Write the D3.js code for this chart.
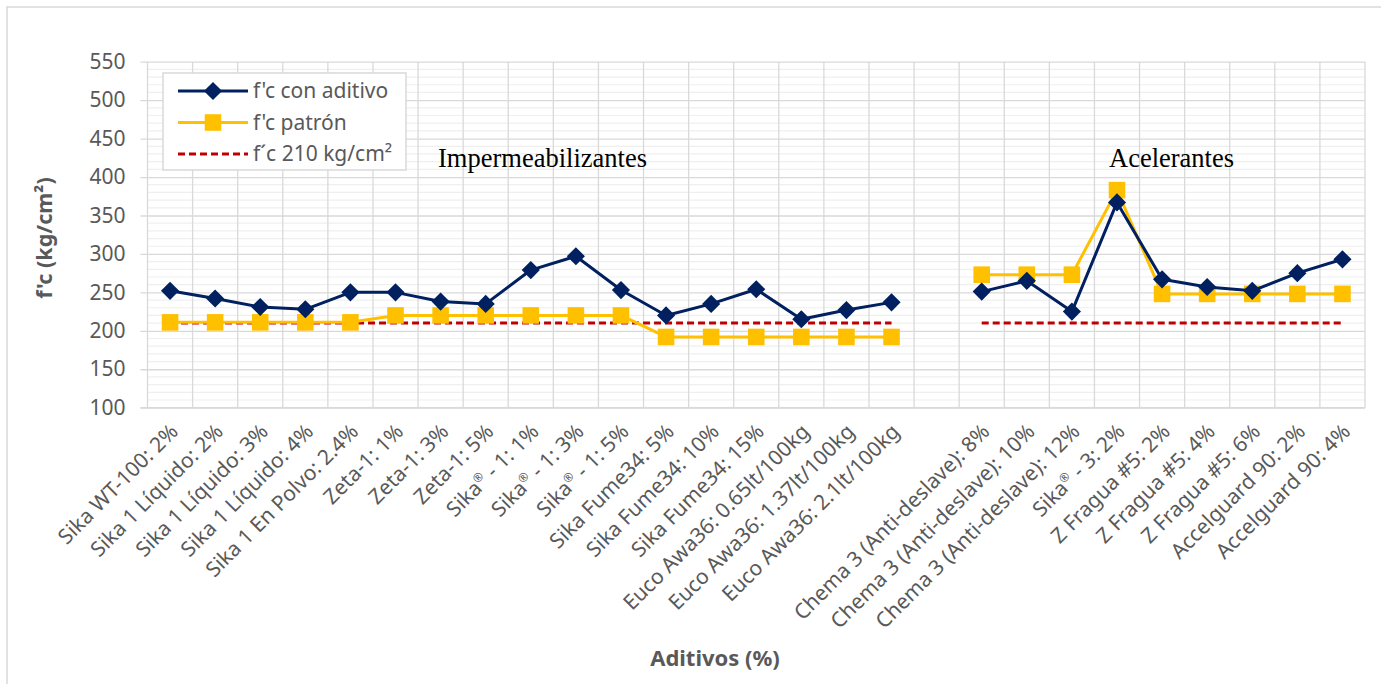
<!DOCTYPE html>
<html>
<head>
<meta charset="utf-8">
<script src="https://cdn.jsdelivr.net/npm/d3@7"></script>
<style>
  body { margin: 0; background: #fff; }
  svg { display: block; }
</style>
</head>
<body>
<script>
// categories (empty slot separates the two groups)
const categorias = [
  "Sika WT-100: 2%", "Sika 1 Líquido: 2%", "Sika 1 Líquido: 3%", "Sika 1 Líquido: 4%",
  "Sika 1 En Polvo: 2.4%", "Zeta-1: 1%", "Zeta-1: 3%", "Zeta-1: 5%",
  "Sika® - 1: 1%", "Sika® - 1: 3%", "Sika® - 1: 5%",
  "Sika Fume34: 5%", "Sika Fume34: 10%", "Sika Fume34: 15%",
  "Euco Awa36: 0.65lt/100kg", "Euco Awa36: 1.37lt/100kg", "Euco Awa36: 2.1lt/100kg",
  "",
  "Chema 3 (Anti-deslave): 8%", "Chema 3 (Anti-deslave): 10%", "Chema 3 (Anti-deslave): 12%",
  "Sika® - 3: 2%", "Z Fragua #5: 2%", "Z Fragua #5: 4%", "Z Fragua #5: 6%",
  "Accelguard 90: 2%", "Accelguard 90: 4%"
];
const conAditivo = [252, 242, 231, 228, 250, 250, 238, 235, 279, 297, 253, 220, 235, 254, 215, 227, 237,
  null, 251, 265, 225, 367, 267, 257, 252, 275, 293];
const patron = [211, 211, 211, 211, 211, 220, 220, 220, 220, 220, 220, 192, 192, 192, 192, 192, 192,
  null, 273, 273, 273, 383, 248, 248, 248, 248, 248];
const referencia = [210, 210, 210, 210, 210, 210, 210, 210, 210, 210, 210, 210, 210, 210, 210, 210, 210,
  null, 210, 210, 210, 210, 210, 210, 210, 210, 210];
const yTicks = [100, 150, 200, 250, 300, 350, 400, 450, 500, 550];
const grupos = [{ nombre: "Impermeabilizantes", x: 438 }, { nombre: "Acelerantes", x: 1109 }];

const W = 1381, H = 684;
const margin = { left: 147.5, right: 16, top: 61.7, bottom: 276.3 };
const width = W - margin.left - margin.right,
  height = H - margin.top - margin.bottom;
const font = "'Noto Sans', 'Open Sans', sans-serif";
const gris = "#595959";

const svg = d3.select("body").append("svg").attr("width", W).attr("height", H);

// outer chart border
svg.append("rect").attr("x", 7).attr("y", 7).attr("width", W).attr("height", H)
  .attr("fill", "none").attr("stroke", "#d9d9d9").attr("stroke-width", 1.5);

const g = svg.append("g").attr("transform", `translate(${margin.left},${margin.top})`);

const x = d3.scaleBand().domain(categorias).range([0, width]).padding(0);
const y = d3.scaleLinear().domain([100, 550]).range([height, 0]);
const cx = (i) => x(categorias[i]) + x.bandwidth() / 2;

// minor gridlines every 10
g.append("g").selectAll("line")
  .data(d3.range(110, 550, 10).filter((v) => v % 50 !== 0))
  .join("line")
  .attr("x1", 0).attr("x2", width)
  .attr("y1", (d) => y(d)).attr("y2", (d) => y(d))
  .attr("stroke", "#efefef").attr("stroke-width", 1.2);

// vertical gridlines at category boundaries
g.append("g").selectAll("line")
  .data(categorias.map((c) => x(c)).concat([width]))
  .join("line")
  .attr("x1", (d) => d).attr("x2", (d) => d)
  .attr("y1", 0).attr("y2", height)
  .attr("stroke", "#d9d9d9").attr("stroke-width", 1.3);

// major gridlines + y axis
const yAxis = d3.axisLeft(y).tickValues(yTicks).tickSize(7).tickPadding(15);
const gY = g.append("g").call(yAxis);
gY.select(".domain").remove();
gY.selectAll(".tick line").attr("stroke", "#d9d9d9").attr("stroke-width", 1.3)
  .attr("x1", -7).attr("x2", width);
gY.selectAll(".tick text").attr("fill", gris).style("font-family", font).style("font-size", "21px");

// x axis labels (® drawn small and raised, like the original)
const gX = g.append("g").attr("transform", `translate(0,${height})`);
gX.append("line").attr("x1", -7).attr("x2", width).attr("stroke", "#d9d9d9").attr("stroke-width", 1.5);
gX.selectAll("text")
  .data(categorias)
  .join("text")
  .attr("transform", (d) => `translate(${x(d) + x.bandwidth() / 2 + 4},${20}) rotate(-45)`)
  .attr("text-anchor", "end")
  .attr("dy", "0.35em")
  .attr("fill", gris)
  .style("font-family", font)
  .style("font-size", "21px")
  .each(function (d) {
    const t = d3.select(this);
    const partes = d.split("®");
    if (partes.length === 1) { t.text(d); return; }
    t.append("tspan").text(partes[0]);
    t.append("tspan").attr("baseline-shift", "super").style("font-size", "12px").text("®");
    t.append("tspan").text(partes[1]);
  });

// series
const series = [
  { nombre: "f´c 210 kg/cm²", datos: referencia, color: "#c00000", dash: "7,4", marker: null },
  { nombre: "f'c patrón", datos: patron, color: "#ffc000", dash: null, marker: "square" },
  { nombre: "f'c con aditivo", datos: conAditivo, color: "#002060", dash: null, marker: "diamond" }
];

const line = d3.line()
  .defined((d) => d.v !== null)
  .x((d) => cx(d.i))
  .y((d) => y(d.v));

const diamond = d3.symbol().type(d3.symbolSquare).size(165);
const square = d3.symbol().type(d3.symbolSquare).size(275);

function drawMarker(sel, tipo, color) {
  if (tipo === "diamond") {
    sel.append("path").attr("d", diamond()).attr("transform", "rotate(45)").attr("fill", color);
  } else if (tipo === "square") {
    sel.append("path").attr("d", square()).attr("fill", color);
  }
}

series.forEach((s) => {
  const pts = s.datos.map((v, i) => ({ v, i }));
  g.append("path")
    .datum(pts)
    .attr("d", line)
    .attr("fill", "none")
    .attr("stroke", s.color)
    .attr("stroke-width", 3)
    .attr("stroke-dasharray", s.dash)
    .attr("stroke-linejoin", "round");
  if (s.marker) {
    const m = g.append("g").selectAll("g")
      .data(pts.filter((d) => d.v !== null))
      .join("g")
      .attr("transform", (d) => `translate(${cx(d.i)},${y(d.v)})`);
    drawMarker(m, s.marker, s.color);
  }
});

// group annotations
svg.selectAll(".grupo")
  .data(grupos)
  .join("text")
  .attr("class", "grupo")
  .attr("x", (d) => d.x)
  .attr("y", 167)
  .style("font-family", "'Liberation Serif', 'Times New Roman', serif")
  .style("font-size", "26.5px")
  .attr("fill", "#000")
  .text((d) => d.nombre);

// legend
const leg = svg.append("g").attr("transform", "translate(163,73)");
leg.append("rect").attr("width", 243).attr("height", 97)
  .attr("fill", "#fff").attr("stroke", "#d9d9d9").attr("stroke-width", 1.5);
const legItems = [series[2], series[1], series[0]];
legItems.forEach((s, k) => {
  const row = leg.append("g").attr("transform", `translate(0,${18 + k * 31.5})`);
  row.append("line").attr("x1", 15).attr("x2", 85)
    .attr("stroke", s.color).attr("stroke-width", 3).attr("stroke-dasharray", s.dash);
  const mk = row.append("g").datum({}).attr("transform", "translate(50,0)");
  drawMarker(mk, s.marker, s.color);
  row.append("text").attr("x", 90).attr("dy", "0.35em")
    .attr("fill", gris).style("font-family", font).style("font-size", "21px")
    .text(s.nombre);
});

// axis titles
svg.append("text")
  .attr("transform", `translate(52,${238}) rotate(-90)`)
  .attr("text-anchor", "middle")
  .attr("fill", gris)
  .style("font-family", font).style("font-size", "21.5px").style("font-weight", "bold")
  .text("f'c (kg/cm²)");
svg.append("text")
  .attr("x", 715).attr("y", 666)
  .attr("text-anchor", "middle")
  .attr("fill", gris)
  .style("font-family", font).style("font-size", "22px").style("font-weight", "bold")
  .text("Aditivos (%)");
</script>
</body>
</html>
